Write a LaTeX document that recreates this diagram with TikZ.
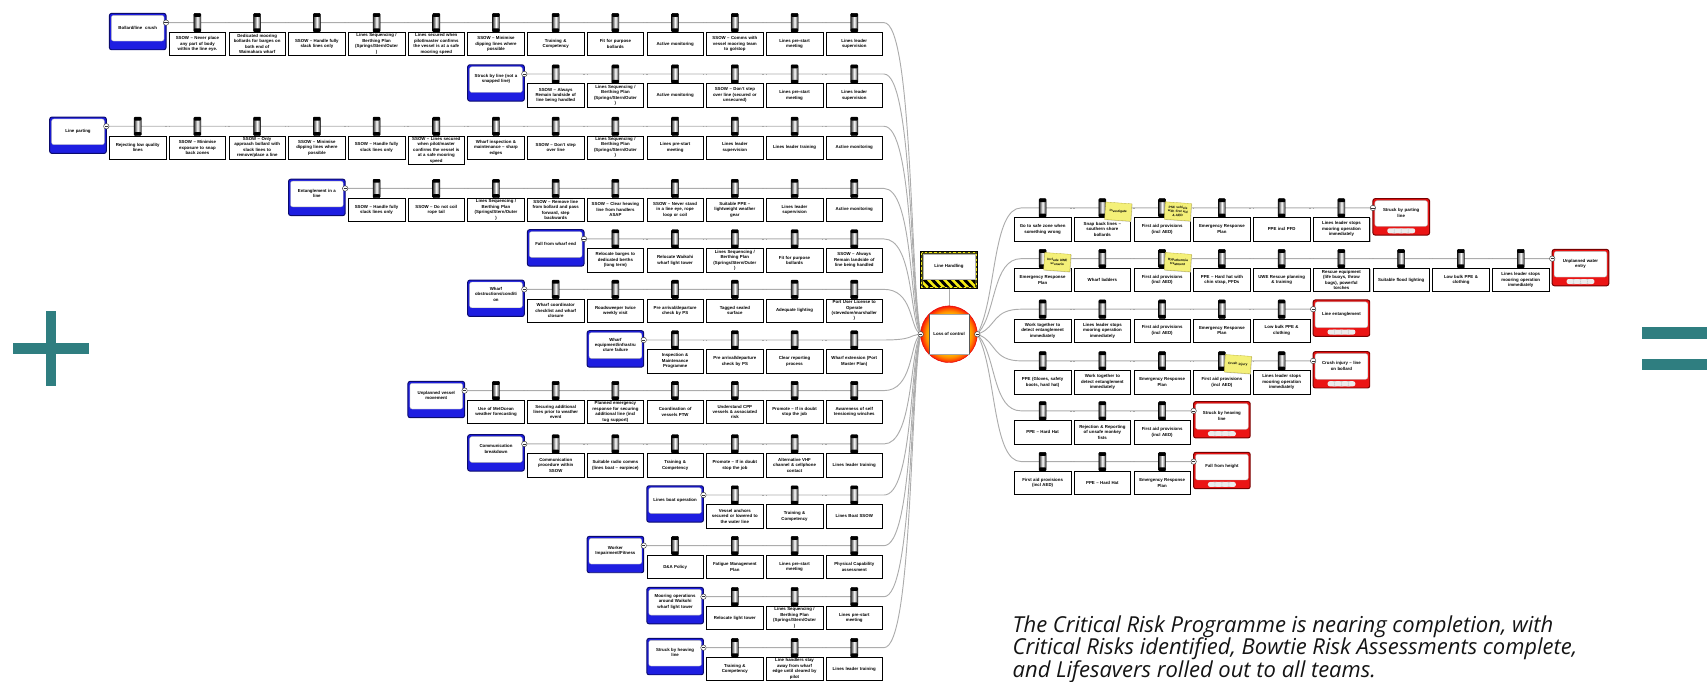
\documentclass[tikz,border=0pt]{standalone}
\usepackage{fontspec}
\setmainfont{Liberation Sans}
\newfontfamily\parafont{Open Sans}
\usetikzlibrary{shadows,backgrounds,calc}

\definecolor{tealc}{RGB}{47,126,128}
\definecolor{thrblue}{RGB}{30,30,225}
\definecolor{thrnavy}{RGB}{10,10,110}
\definecolor{conred}{RGB}{235,20,20}
\definecolor{condark}{RGB}{120,0,0}
\definecolor{stickyy}{RGB}{244,240,120}
\definecolor{stickyb}{RGB}{190,180,60}
\definecolor{hazol}{RGB}{70,70,20}
\definecolor{hazy}{RGB}{245,235,20}
\definecolor{teinner}{RGB}{255,195,0}
\definecolor{temid}{RGB}{255,140,0}
\definecolor{teorange}{RGB}{255,70,0}
\definecolor{teouter}{RGB}{245,25,10}
\definecolor{teedge}{RGB}{230,0,0}
\pgfdeclareradialshading{teshade}{\pgfpoint{0bp}{0bp}}{color(0bp)=(teinner); color(17bp)=(teinner); color(20.5bp)=(temid); color(23.3bp)=(teorange); color(25bp)=(teouter); color(50bp)=(teouter)}

\tikzset{
 boxfont/.style={font=\fontsize{4}{5}\selectfont\bfseries},
 bbox/.style={boxfont, anchor=north, draw=black, line width=0.55pt, fill=white,
   minimum width=52, minimum height=21.4, text width=49, align=center,
   inner xsep=1.5, inner ysep=1.2,
   general shadow={fill=gray!55, shadow xshift=0.7pt, shadow yshift=-0.7pt}},
 bicon/.style={rectangle, minimum width=6.5, minimum height=17, inner sep=0,
   draw=black, line width=0.35pt, rounded corners=0.8pt,
   left color=black!80, right color=black!80, middle color=white,
   path picture={\fill[black] (path picture bounding box.north west) rectangle ([yshift=-3.2pt]path picture bounding box.north east);
     \fill[black] (path picture bounding box.south west) rectangle ([yshift=3.2pt]path picture bounding box.south east);}},
 threatbox/.style={rectangle, rounded corners=2pt, minimum width=52, minimum height=33.4,
   inner sep=0, draw=thrnavy, line width=0.9pt, fill=thrblue,
   path picture={\filldraw[fill=white, draw=gray!60, line width=0.3pt] ([xshift=1.8pt,yshift=-1.8pt]path picture bounding box.north west) rectangle ([xshift=-1.8pt,yshift=8pt]path picture bounding box.south east);}},
 consbox/.style={rectangle, rounded corners=2pt, minimum width=52, minimum height=33.4,
   inner sep=0, draw=condark, line width=0.9pt, fill=conred,
   path picture={\filldraw[fill=white, draw=gray!60, line width=0.3pt] ([xshift=1.8pt,yshift=-1.8pt]path picture bounding box.north west) rectangle ([xshift=-1.8pt,yshift=8pt]path picture bounding box.south east);
     \fill[gray!15] ([xshift=-12.8pt,yshift=1.6pt]path picture bounding box.south) rectangle ([xshift=12.8pt,yshift=6.2pt]path picture bounding box.south);
     \foreach \s in {-6.4,0,6.4}{\fill[gray!40] ([xshift={(\s-0.25)*1pt},yshift=1.6pt]path picture bounding box.south) rectangle ++(0.5pt,4.6pt);}}},
 port/.style={circle, draw=black!80, fill=white, line width=0.4pt, minimum size=5, inner sep=0,
   path picture={\draw[line width=0.5pt] ([xshift=1pt]path picture bounding box.west) -- ([xshift=-1pt]path picture bounding box.east);}},
 boxtext/.style={boxfont, text width=47, align=center, inner sep=0},
 conn/.style={draw=gray!65, line width=0.85pt},
 dashmark/.style={fill=gray!70},
 sticky/.style={font=\fontsize{3}{3.6}\selectfont\bfseries, fill=stickyy, draw=stickyb, line width=0.3pt,
   minimum width=24, minimum height=16, text width=22, align=center, inner sep=0.5, rotate=-4,
   general shadow={fill=gray!40, shadow xshift=0.6pt, shadow yshift=-0.6pt}},
 hazbox/.style={rectangle, minimum width=52, minimum height=33.6, inner sep=0, draw=black,
   line width=0.5pt, fill=hazol,
   path picture={\draw[hazy, line width=0.8pt, dash pattern=on 2.2pt off 2.2pt] ([xshift=1pt,yshift=-1pt]path picture bounding box.north west) rectangle ([xshift=-1pt,yshift=1pt]path picture bounding box.south east);
     \filldraw[fill=white, draw=gray!60, line width=0.3pt] ([xshift=2.2pt,yshift=-2.2pt]path picture bounding box.north west) rectangle ([xshift=-2.2pt,yshift=8.5pt]path picture bounding box.south east);}},
 paratext/.style={anchor=base west, inner sep=0, font=\parafont\itshape\fontsize{20.2}{21}\selectfont, text=black!92}
}

% left row: id, threat slot, line y, threat text
\newcommand\LROW[4]{%
  \def\ry{#3}%
  \pgfmathsetmacro\myTx{126.5+54.85*#2}%
  \pgfmathsetmacro\myTy{#3+8.2}%
  \pgfmathsetmacro\myTt{#3+4.6}%
  \pgfmathsetmacro\myTp{\myTx+26}%
  \node[threatbox] (T#1) at (\myTx,\myTy) {};
  \node[boxtext] (T#1-txt) at (\myTx,\myTt) {#4};
  \node[port] (T#1-p) at (\myTp,#3) {};
  \coordinate (L#1e) at (812,#3);
  \pgfmathsetmacro\myCy{307+(#3-307)*0.2}%
  \begin{pgfonlayer}{background}
  \draw[conn] (T#1-p) -- (L#1e) .. controls (838,#3) and (836,\myCy) .. (te-l);
  \end{pgfonlayer}
  \pgfmathtruncatemacro\myMk{#2+2}%
  \foreach \m in {\myMk,...,12}{%
    \pgfmathsetmacro\myMx{126.5+54.85*\m-27.4}%
    \fill[dashmark] (\myMx-2.2,\ry-0.3) rectangle (\myMx-0.9,\ry+0.3);
    \fill[dashmark] (\myMx+0.9,\ry-0.3) rectangle (\myMx+2.2,\ry+0.3);
  }
}
% left barrier: row id, slot, text
\newcommand\LB[3]{%
  \pgfmathsetmacro\myBx{126.5+54.85*#2}%
  \pgfmathsetmacro\myBy{\ry+8.6}%
  \node[bicon] (L#1-#2-i) at (\myBx,\ry) {};
  \node[bbox] (L#1-#2) at (\myBx,\myBy) {#3};
}
% right row: id, consequence slot, line y, text
\newcommand\RROW[4]{%
  \def\ry{#3}%
  \pgfmathsetmacro\myTx{957.7+54.9*#2}%
  \pgfmathsetmacro\myTy{#3+8.2}%
  \pgfmathsetmacro\myTt{#3+4.6}%
  \pgfmathsetmacro\myTp{\myTx-26}%
  \node[consbox] (C#1) at (\myTx,\myTy) {};
  \node[boxtext] (C#1-txt) at (\myTx,\myTt) {#4};
  \node[port] (C#1-p) at (\myTp,#3) {};
  \coordinate (R#1s) at (938,#3);
  \pgfmathsetmacro\myCy{307+(#3-307)*0.3}%
  \begin{pgfonlayer}{background}
  \draw[conn] (te-r) .. controls (915,\myCy) and (912,#3) .. (R#1s) -- (C#1-p);
  \end{pgfonlayer}
  \pgfmathtruncatemacro\myMk{#2-1}%
  \foreach \m in {1,...,\myMk}{%
    \pgfmathsetmacro\myMx{957.7+54.9*\m-27.45}%
    \fill[dashmark] (\myMx-2.2,\ry-0.3) rectangle (\myMx-0.9,\ry+0.3);
    \fill[dashmark] (\myMx+0.9,\ry-0.3) rectangle (\myMx+2.2,\ry+0.3);
  }
}
\newcommand\RB[3]{%
  \pgfmathsetmacro\myBx{957.7+54.9*#2}%
  \pgfmathsetmacro\myBy{\ry+8.6}%
  \node[bicon] (R#1-#2-i) at (\myBx,\ry) {};
  \node[bbox] (R#1-#2) at (\myBx,\myBy) {#3};
}

\begin{document}
\begin{tikzpicture}[x=1pt,y=-1pt]
\useasboundingbox (0,0) rectangle (1568,626);

% plus and equals
\fill[tealc] (12,315.5) rectangle (82,325);
\fill[tealc] (42.2,285.5) rectangle (51.7,355);
\fill[tealc] (1508,300.5) rectangle (1568,311);
\fill[tealc] (1508,329.5) rectangle (1568,340);

% hazard
\node[hazbox] (hz) at (871.7,248) {};
\begin{scope}
\clip (847.9,257.2) rectangle (895.5,263.5);
\fill[hazy] (847.9,257.2) rectangle (895.5,263.5);
\foreach \s in {0,...,9}{\fill[black] ({840+\s*7.4},257.2) -- ({843.7+\s*7.4},257.2) -- ({849.7+\s*7.4},263.5) -- ({846+\s*7.4},263.5) -- cycle;}
\end{scope}
\node[boxtext] (hz-txt) at (871.7,244.5) {Line Handling};

% top event
\node[circle, minimum size=52, inner sep=0, draw=teedge, line width=0.4pt,
  shading=teshade] (te) at (871.7,307) {};
\node[draw=gray!70, fill=white, line width=0.4pt, minimum width=36.4, minimum height=36.7, inner sep=0, boxfont] (te-box) at (871.8,307) {Loss of control};
\draw[black!65, line width=0.9pt] (te-box.north west) -- (te-box.south west) (te-box.north east) -- (te-box.south east);
\node[port] (te-l) at (845.7,307) {};
\node[port] (te-r) at (897.7,307) {};
\begin{pgfonlayer}{background}
\draw[conn] (hz.south) -- (te.north);
\end{pgfonlayer}

% ---------------- left side ----------------
\LROW{1}{0}{20.8}{Bollard/line\ \ crush}
\LB{1}{1}{SSOW – Never place\\any part of body\\within the line eye.}
\LB{1}{2}{Dedicated mooring\\bollards for barges on\\both end of\\Waimahara wharf}
\LB{1}{3}{SSOW – Handle fully\\slack lines only}
\LB{1}{4}{Lines Sequencing /\\Berthing Plan\\(Springs/Stern/Outer\\)}
\LB{1}{5}{Lines secured when\\pilot/master confirms\\the vessel is at a safe\\mooring speed}
\LB{1}{6}{SSOW – Minimise\\dipping lines where\\possible}
\LB{1}{7}{Training \&\\Competency}
\LB{1}{8}{Fit for purpose\\bollards}
\LB{1}{9}{Active monitoring}
\LB{1}{10}{SSOW – Comms with\\vessel mooring team\\to go/stop}
\LB{1}{11}{Lines pre-start\\meeting}
\LB{1}{12}{Lines leader\\supervision}

\LROW{2}{6}{68}{Struck by line (not a\\snapped line)}
\LB{2}{7}{SSOW – Always\\Remain landside of\\line being handled}
\LB{2}{8}{Lines Sequencing /\\Berthing Plan\\(Springs/Stern/Outer\\)}
\LB{2}{9}{Active monitoring}
\LB{2}{10}{SSOW – Don't step\\over line (secured or\\unsecured)}
\LB{2}{11}{Lines pre-start\\meeting}
\LB{2}{12}{Lines leader\\supervision}

\LROW{3}{-1}{116}{Line parting}
\LB{3}{0}{Rejecting low quality\\lines}
\LB{3}{1}{SSOW – Minimise\\exposure to snap\\back zones}
\LB{3}{2}{SSOW – Only\\approach bollard with\\slack lines to\\remove/place a line}
\LB{3}{3}{SSOW – Minimise\\dipping lines where\\possible}
\LB{3}{4}{SSOW – Handle fully\\slack lines only}
\LB{3}{5}{SSOW – Lines secured\\when pilot/master\\confirms the vessel is\\at a safe mooring\\speed}
\LB{3}{6}{Wharf inspection \&\\maintenance – sharp\\edges}
\LB{3}{7}{SSOW – Don't step\\over line}
\LB{3}{8}{Lines Sequencing /\\Berthing Plan\\(Springs/Stern/Outer\\)}
\LB{3}{9}{Lines pre-start\\meeting}
\LB{3}{10}{Lines leader\\supervision}
\LB{3}{11}{Lines leader training}
\LB{3}{12}{Active monitoring}

\LROW{4}{3}{173.1}{Entanglement in a\\line}
\LB{4}{4}{SSOW – Handle fully\\slack lines only}
\LB{4}{5}{SSOW – Do not coil\\rope tail}
\LB{4}{6}{Lines Sequencing /\\Berthing Plan\\(Springs/Stern/Outer\\)}
\LB{4}{7}{SSOW – Remove line\\from bollard and pass\\forward, step\\backwards}
\LB{4}{8}{SSOW – Clear heaving\\line from handlers\\ASAP}
\LB{4}{9}{SSOW – Never stand\\in a line eye, rope\\loop or coil}
\LB{4}{10}{Suitable PPE –\\lightweight weather\\gear}
\LB{4}{11}{Lines leader\\supervision}
\LB{4}{12}{Active monitoring}

\LROW{5}{7}{219.5}{Fall from wharf end}
\LB{5}{8}{Relocate barges to\\dedicated berths\\(long term)}
\LB{5}{9}{Relocate Waikohi\\wharf light tower}
\LB{5}{10}{Lines Sequencing /\\Berthing Plan\\(Springs/Stern/Outer\\)}
\LB{5}{11}{Fit for purpose\\bollards}
\LB{5}{12}{SSOW – Always\\Remain landside of\\line being handled}

\LROW{6}{6}{265.8}{Wharf\\obstructions/conditi\\on}
\LB{6}{7}{Wharf coordinator\\checklist and wharf\\closure}
\LB{6}{8}{Roadsweeper twice\\weekly visit}
\LB{6}{9}{Pre arrival/departure\\check by PS}
\LB{6}{10}{Tagged sealed\\surface}
\LB{6}{11}{Adequate lighting}
\LB{6}{12}{Port User License to\\Operate\\(stevedore/marshaller\\)}

\LROW{7}{8}{312.3}{Wharf\\equipment/infrastru\\cture failure}
\LB{7}{9}{Inspection \&\\Maintenance\\Programme}
\LB{7}{10}{Pre arrival/departure\\check by PS}
\LB{7}{11}{Clear reporting\\process}
\LB{7}{12}{Wharf extension (Port\\Master Plan)}

\LROW{8}{5}{358.8}{Unplanned vessel\\movement}
\LB{8}{6}{Use of MetOcean\\weather forecasting}
\LB{8}{7}{Securing additional\\lines prior to weather\\event}
\LB{8}{8}{Planned emergency\\response for securing\\additional line (incl\\tug support)}
\LB{8}{9}{Coordination of\\vessels PTW}
\LB{8}{10}{Understand CPP\\vessels \& associated\\risk}
\LB{8}{11}{Promote – If in doubt\\stop the job}
\LB{8}{12}{Awareness of self\\tensioning winches}

\LROW{9}{6}{407.8}{Communication\\breakdown}
\LB{9}{7}{Communication\\procedure within\\SSOW}
\LB{9}{8}{Suitable radio comms\\(lines boat – earpiece)}
\LB{9}{9}{Training \&\\Competency}
\LB{9}{10}{Promote – If in doubt\\stop the job}
\LB{9}{11}{Alternative VHF\\channel \& cellphone\\contact}
\LB{9}{12}{Lines leader training}

\LROW{10}{9}{454.7}{Lines boat operation}
\LB{10}{10}{Vessel anchors\\secured or lowered to\\the water line}
\LB{10}{11}{Training \&\\Competency}
\LB{10}{12}{Lines Boat SSOW}

\LROW{11}{8}{501.2}{Worker\\Impairment/Fitness}
\LB{11}{9}{D\&A Policy}
\LB{11}{10}{Fatigue Management\\Plan}
\LB{11}{11}{Lines pre-start\\meeting}
\LB{11}{12}{Physical Capability\\assessment}

\LROW{12}{9}{548.1}{Mooring operations\\around Waikohi\\wharf light tower}
\LB{12}{10}{Relocate light tower}
\LB{12}{11}{Lines Sequencing /\\Berthing Plan\\(Springs/Stern/Outer\\)}
\LB{12}{12}{Lines pre-start\\meeting}

\LROW{13}{9}{594.9}{Struck by heaving\\line}
\LB{13}{10}{Training \&\\Competency}
\LB{13}{11}{Line handlers stay\\away from wharf\\edge until cleared by\\pilot}
\LB{13}{12}{Lines leader training}

% ---------------- right side ----------------
\RROW{1}{6}{191}{Struck by parting\\line}
\RB{1}{0}{Go to safe zone when\\something wrong}
\RB{1}{1}{Snap back lines –\\southern shore\\bollards}
\RB{1}{2}{First aid provisions\\(incl AED)}
\RB{1}{3}{Emergency Response\\Plan}
\RB{1}{4}{PPE incl PFD}
\RB{1}{5}{Lines leader stops\\mooring operation\\immediately}

\RROW{2}{9}{237.6}{Unplanned water\\entry}
\RB{2}{0}{Emergency Response\\Plan}
\RB{2}{1}{Wharf ladders}
\RB{2}{2}{First aid provisions\\(incl AED)}
\RB{2}{3}{PPE – Hard hat with\\chin strap, PFDs}
\RB{2}{4}{UWE Rescue planning\\\& training}
\RB{2}{5}{Rescue equipment\\(life buoys, throw\\bags), powerful\\torches}
\RB{2}{6}{Suitable flood lighting}
\RB{2}{7}{Low bulk PPE \&\\clothing}
\RB{2}{8}{Lines leader stops\\mooring operation\\immediately}

\RROW{3}{5}{284}{Line entanglement}
\RB{3}{0}{Work together to\\detect entanglement\\immediately}
\RB{3}{1}{Lines leader stops\\mooring operation\\immediately}
\RB{3}{2}{First aid provisions\\(incl AED)}
\RB{3}{3}{Emergency Response\\Plan}
\RB{3}{4}{Low bulk PPE \&\\clothing}

\RROW{4}{5}{331.5}{Crush injury – line\\on bollard}
\RB{4}{0}{PPE (Gloves, safety\\boots, hard hat)}
\RB{4}{1}{Work together to\\detect entanglement\\immediately}
\RB{4}{2}{Emergency Response\\Plan}
\RB{4}{3}{First aid provisions\\(incl AED)}
\RB{4}{4}{Lines leader stops\\mooring operation\\immediately}

\RROW{5}{3}{377.4}{Struck by heaving\\line}
\RB{5}{0}{PPE – Hard Hat}
\RB{5}{1}{Rejection \& Reporting\\of unsafe monkey\\fists}
\RB{5}{2}{First aid provisions\\(incl AED)}

\RROW{6}{3}{424}{Fall from height}
\RB{6}{0}{First aid provisions\\(incl AED)}
\RB{6}{1}{PPE – Hard Hat}
\RB{6}{2}{Emergency Response\\Plan}

% sticky notes
\node[sticky] (s1) at (1027.2,194.4) {Investigate};
\node[sticky] (s2) at (1081.9,194.2) {PSC vehicle\\with first aid\\\& AED};
\node[sticky] (s3) at (971.2,240.8) {Include UWE\\scenario};
\node[sticky] (s4) at (1081.9,240.8) {Hypothermia\\treatment};
\node[sticky] (s5) at (1137,334.5) {Crush injury};

% paragraph
\node[paratext] (p1) at (930,581) {The Critical Risk Programme is nearing completion, with};
\node[paratext] (p2) at (930,601.5) {Critical Risks identified, Bowtie Risk Assessments complete,};
\node[paratext] (p3) at (930,622) {and Lifesavers rolled out to all teams.};
\end{tikzpicture}
\end{document}
